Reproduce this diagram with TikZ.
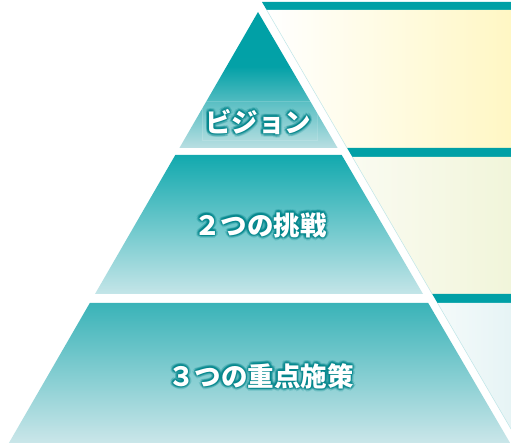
\documentclass[tikz,border=0pt]{standalone}
\usepackage{fontspec}
\newfontfamily\cjk{Noto Sans CJK JP}
\definecolor{tealbar}{HTML}{00A0A6}
\definecolor{glowc}{HTML}{02868C}
\definecolor{tOneTop}{HTML}{00A0A6}
\definecolor{tOneMid}{HTML}{03A1A7}
\definecolor{tOneBot}{HTML}{B9DFE2}
\definecolor{tTwoTop}{HTML}{12A9AE}
\definecolor{tTwoBot}{HTML}{C4E5E8}
\definecolor{tThrTop}{HTML}{3AB3B8}
\definecolor{tThrBot}{HTML}{CAE6E9}
\definecolor{pOneL}{HTML}{FFFFFF}
\definecolor{pOneR}{HTML}{FFF7C4}
\definecolor{pTwoL}{HTML}{FAFBF1}
\definecolor{pTwoR}{HTML}{F1F5DA}
\definecolor{pThrL}{HTML}{F4FAFA}
\definecolor{pThrR}{HTML}{E6F4F5}
\definecolor{edgec}{HTML}{BFE6E8}
\pgfdeclareverticalshading{tierone}{100bp}{color(0bp)=(tOneBot); color(25bp)=(tOneBot); color(55bp)=(tOneMid); color(75bp)=(tOneTop); color(100bp)=(tOneTop)}
\tikzset{
  tier/.style={draw=none},
  bar/.style={fill=tealbar, draw=none},
  panel/.style={draw=none},
  labeltxt/.style={text=white, inner sep=0pt, font=\cjk\bfseries\fontsize{26.5}{26.5}\selectfont},
  glowtxt/.style={text=glowc, inner sep=0pt, font=\cjk\bfseries\fontsize{26.5}{26.5}\selectfont},
  paneledge/.style={draw=edgec, line width=0.5pt}
}
\newcommand{\glowlabel}[3]{%
  \foreach \ang in {0,30,...,330}{
    \node[glowtxt, text opacity=0.2] at ([shift={(\ang:3.0)}]#2) {#3};
    \node[glowtxt, text opacity=0.32] at ([shift={(\ang+15:1.6)}]#2) {#3};
  }
  \node[labeltxt] (#1) at (#2) {#3};
}
\begin{document}
\begin{tikzpicture}[x=1pt, y=-1pt]
\useasboundingbox (0,0) rectangle (511,443);
\fill[white] (0,0) rectangle (511,443);
% panels
\fill[bar] (262,2) -- (511,2) -- (511,10) -- (266.7,10) -- cycle;
\shade[panel, left color=pOneL, right color=pOneR] (266.7,10) -- (511,10) -- (511,148) -- (347.1,148) -- cycle;
\fill[bar] (347.1,148) -- (511,148) -- (511,157) -- (352.4,157) -- cycle;
\shade[panel, left color=pTwoL, right color=pTwoR] (352.4,157) -- (511,157) -- (511,294) -- (432.2,294) -- cycle;
\fill[bar] (432.2,294) -- (511,294) -- (511,303) -- (437.5,303) -- cycle;
\shade[panel, left color=pThrL, right color=pThrR] (437.5,303) -- (511,303) -- (511,429) -- cycle;
\draw[paneledge] (266.7,10) -- (347.1,148);
\draw[paneledge] (352.4,157) -- (432.2,294);
\draw[paneledge] (437.5,303) -- (511,429);
% pyramid tiers
\shade[tier, shading=tierone] (258,12) -- (337.6,148) -- (179.4,148) -- cycle;
\shade[tier, top color=tTwoTop, bottom color=tTwoBot] (175.3,155) -- (341.7,155) -- (423.0,294) -- (95.0,294) -- cycle;
\shade[tier, top color=tThrTop, bottom color=tThrBot] (89.8,303) -- (428.2,303) -- (510.1,443) -- (8.9,443) -- cycle;
% faint box behind the top label
\draw[white, draw opacity=0.15, fill=white, fill opacity=0.05] (202,101) rectangle (317,140);
% labels
\coordinate (c1) at (258,122);
\coordinate (c2) at (260.5,225);
\coordinate (c3) at (261,376);
\glowlabel{t1}{c1}{ビジョン}
\glowlabel{t2}{c2}{２つの挑戦}
\glowlabel{t3}{c3}{３つの重点施策}
\end{tikzpicture}
\end{document}
